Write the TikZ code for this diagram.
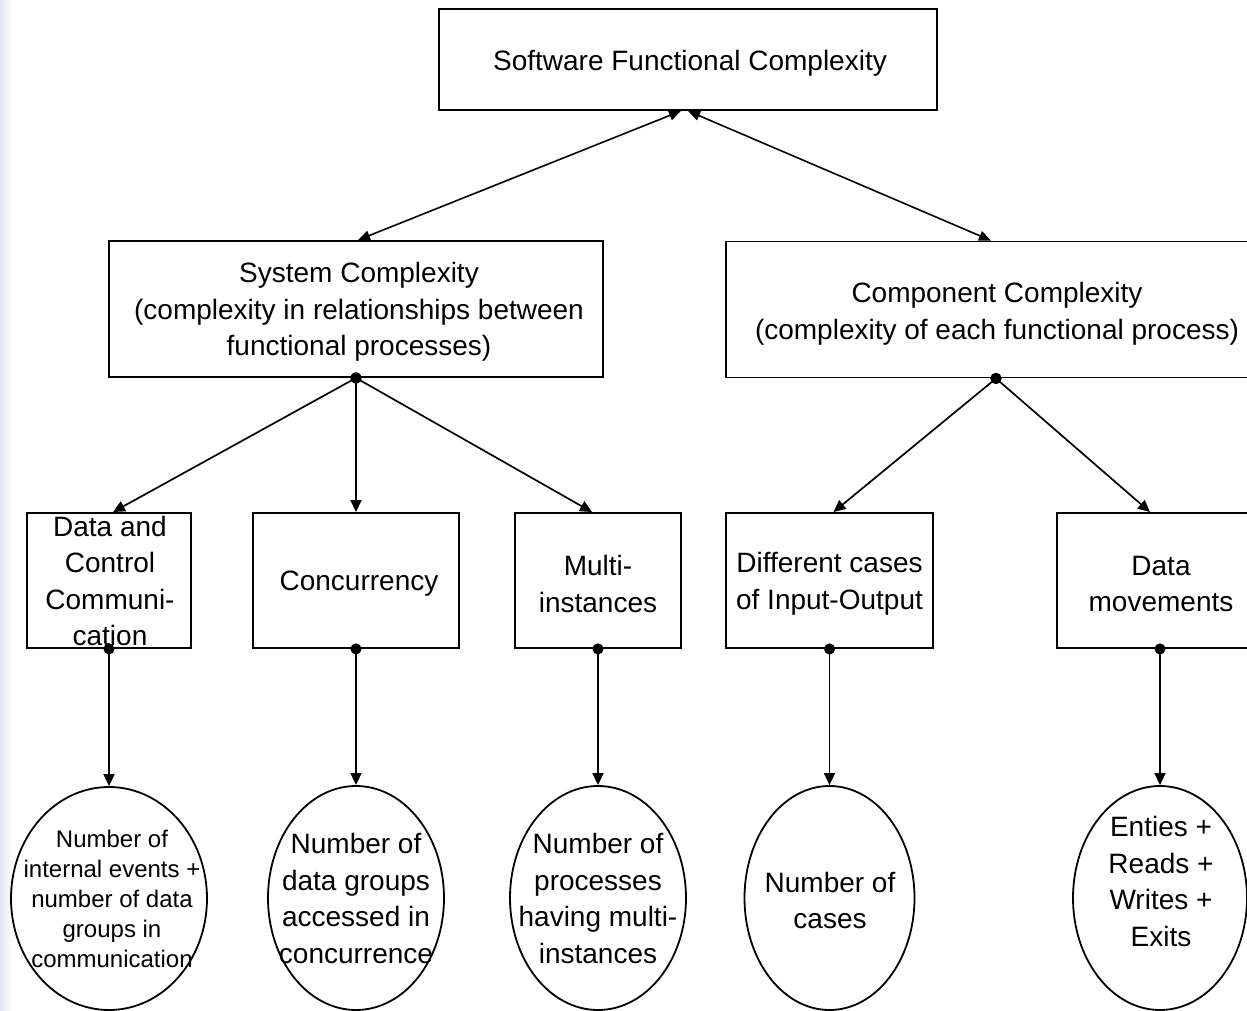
\documentclass[tikz,border=0pt]{standalone}
\usepackage{fontspec}
\setmainfont{Liberation Sans}
\usetikzlibrary{arrows.meta,shapes.geometric}
\newcommand\txtbig{\fontsize{28}{36.5}\selectfont}
\newcommand\txtsmall{\fontsize{24}{30}\selectfont}
\tikzset{
  box/.style={draw, rectangle, line width=1.9pt, inner sep=0pt},
  oval/.style={draw, ellipse, line width=1.8pt, inner sep=0pt},
  lbl/.style={align=center, inner sep=0pt, font=\txtbig},
  dlink/.style={line width=1.6pt, {Triangle[length=12pt,width=10pt]}-{Triangle[length=12pt,width=10pt]}},
  dotlink/.style={line width=1.7pt, shorten <=-5.5pt, {Circle[length=11pt]}-{Triangle[length=12pt,width=11pt]}},
}
\begin{document}
\begin{tikzpicture}[x=1pt,y=-1pt]
\useasboundingbox (0,0) rectangle (1247,1011);
\clip (0,0) rectangle (1247,1011);
% faint shaded strip along the left margin
\shade[left color={rgb,255:red,228;green,230;blue,243}, right color=white] (0,0) rectangle (13,1011);

% top level
\node[box, minimum width=498, minimum height=101] (top) at (688,59.5) {};
\node[lbl] (top-t) at (690,63) {Software Functional Complexity};

% second level
\node[box, minimum width=494, minimum height=136] (sys) at (356,309) {};
\node[lbl] (sys-t) at (359,312) {System Complexity\\ (complexity in relationships between\\ functional processes)};
\node[box, minimum width=540, minimum height=136] (comp) at (996,309.5) {};
\node[lbl] (comp-t) at (997,314) {Component Complexity\\ (complexity of each functional process)};

% third level
\node[box, minimum width=164, minimum height=135] (dcc) at (109,580.5) {};
\node[lbl] (dcc-t) at (110,581) {Data and\\ Control\\ Communi-\\ cation};
\node[box, minimum width=206, minimum height=135] (conc) at (356,580.5) {};
\node[lbl] (conc-t) at (359,584) {Concurrency};
\node[box, minimum width=166, minimum height=135] (multi) at (598,580.5) {};
\node[lbl] (multi-t) at (598,584) {Multi-\\ instances};
\node[box, minimum width=207, minimum height=135] (diff) at (829.5,580.5) {};
\node[lbl] (diff-t) at (829.5,584) {Different cases\\ of Input-Output};
\node[box, minimum width=206, minimum height=135] (dmov) at (1160,580.5) {};
\node[lbl] (dmov-t) at (1161,584) {Data\\ movements};

% measures
\node[oval, minimum width=196, minimum height=223] (e1) at (109,898.5) {};
\node[lbl, font=\txtsmall] (e1-t) at (112,899) {Number of\\ internal events +\\ number of data\\ groups in\\ communication};
\node[oval, minimum width=176, minimum height=224] (e2) at (356,898) {};
\node[lbl] (e2-t) at (356,898.5) {Number of\\ data groups\\ accessed in\\ concurrence};
\node[oval, minimum width=176, minimum height=224] (e3) at (598,898) {};
\node[lbl] (e3-t) at (598,898.5) {Number of\\ processes\\ having multi-\\ instances};
\node[oval, minimum width=170, minimum height=224] (e4) at (829.5,898) {};
\node[lbl] (e4-t) at (830,900.5) {Number of\\ cases};
\node[oval, minimum width=174, minimum height=224] (e5) at (1160,898) {};
\node[lbl] (e5-t) at (1161,881.5) {Enties +\\ Reads +\\ Writes +\\ Exits};

% connectors
\draw[dlink] ([xshift=-7pt]top.south) -- ([xshift=2pt]sys.north);
\draw[dlink] ([xshift=0pt]top.south) -- ([xshift=-5pt]comp.north);

\draw[dotlink] (sys.south) -- ([xshift=4pt]dcc.north);
\draw[dotlink] (sys.south) -- (conc.north);
\draw[dotlink] (sys.south) -- ([xshift=-6pt]multi.north);
\draw[dotlink] (comp.south) -- ([xshift=4pt]diff.north);
\draw[dotlink] (comp.south) -- ([xshift=-10pt]dmov.north);

\draw[dotlink] (dcc.south) -- (e1.north);
\draw[dotlink] (conc.south) -- (e2.north);
\draw[dotlink] (multi.south) -- (e3.north);
\draw[dotlink] (diff.south) -- (e4.north);
\draw[dotlink] (dmov.south) -- (e5.north);
\end{tikzpicture}
\end{document}
